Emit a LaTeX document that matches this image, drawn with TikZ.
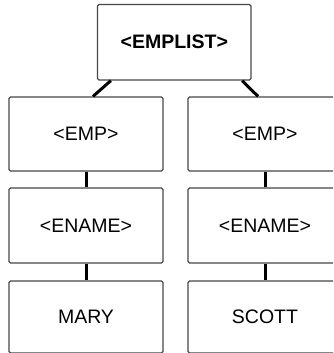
\documentclass[tikz,border=0pt]{standalone}
\usepackage{fontspec}
\setmainfont{Liberation Sans}
\usetikzlibrary{calc}
\begin{document}
\begin{tikzpicture}[x=1pt,y=-1pt,
  box/.style={draw=black!72, line width=1.3pt, rounded corners=1.5pt, fill=white,
    minimum width=154pt, minimum height=74pt, inner sep=0pt,
    font=\fontsize{19.5}{23}\selectfont},
  conn/.style={line width=3pt, black}]
\useasboundingbox (0,0) rectangle (333,353);
\clip (0,0) rectangle (333,353);
\node[box, minimum width=153.5pt, minimum height=75.5pt, font=\fontsize{19.5}{23}\selectfont\bfseries] (top) at (174.25,42.25) {<EMPLIST>};
\node[box] (emp1) at (86,134) {<EMP>};
\node[box] (emp2) at (265,134) {<EMP>};
\node[box, minimum height=75pt] (en1) at (86,225.5) {<ENAME>};
\node[box, minimum height=75pt] (en2) at (265,225.5) {<ENAME>};
\node[box, minimum height=72pt] (v1) at (86,317) {MARY};
\node[box, minimum height=72pt] (v2) at (265,317) {SCOTT};
\draw[conn] ($(top.south west)+(14,0)$) -- ($(emp1.north)+(7,0)$);
\draw[conn] ($(top.south east)+(-9.5,0)$) -- ($(emp2.north)+(-7,0)$);
\draw[conn] (emp1.south) -- (en1.north);
\draw[conn] (emp2.south) -- (en2.north);
\draw[conn] (en1.south) -- (v1.north);
\draw[conn] (en2.south) -- (v2.north);
\end{tikzpicture}
\end{document}
